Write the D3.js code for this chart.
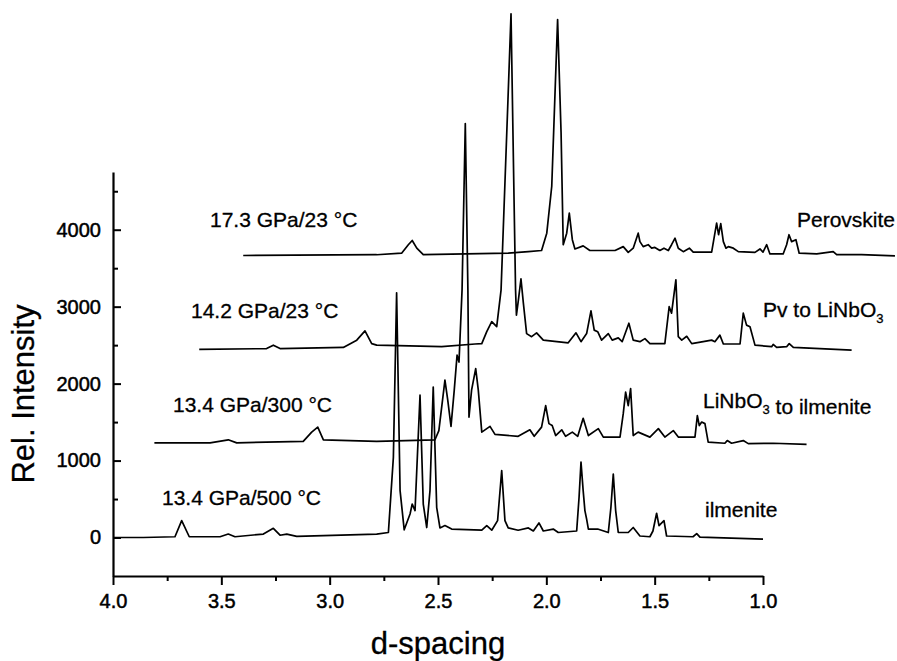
<!DOCTYPE html>
<html>
<head>
<meta charset="utf-8">
<script src="https://cdn.jsdelivr.net/npm/d3@7"></script>
<style>
  body { margin: 0; background: #fff; }
  svg text { font-family: "Liberation Sans", Arial, sans-serif; fill: #000; stroke: #000; stroke-width: 0.3px; }
</style>
</head>
<body>
<svg id="xrd" width="897" height="661"></svg>
<script>
// [d-spacing, rel. intensity] as plotted (stacked traces are offset in d and intensity)
var ilmenite = [[4.000,0],[3.860,0],[3.714,10],[3.683,220],[3.648,10],[3.506,10],[3.468,45],[3.437,10],[3.306,45],[3.260,120],[3.229,30],[3.198,45],[3.152,15],[2.783,45],[2.729,65],[2.706,1040],[2.691,3180],[2.675,610],[2.656,100],[2.629,305],[2.619,435],[2.606,350],[2.583,1850],[2.568,435],[2.552,130],[2.537,610],[2.522,1955],[2.506,390],[2.491,125],[2.468,155],[2.437,110],[2.298,95],[2.275,155],[2.252,95],[2.225,220],[2.206,870],[2.191,220],[2.176,125],[2.130,95],[2.083,125],[2.060,85],[2.034,190],[2.014,85],[1.968,110],[1.945,65],[1.860,85],[1.849,520],[1.840,980],[1.830,610],[1.822,350],[1.814,240],[1.806,110],[1.763,110],[1.714,65],[1.702,390],[1.691,825],[1.680,350],[1.668,65],[1.622,65],[1.599,130],[1.568,20],[1.522,10],[1.508,85],[1.491,315],[1.480,155],[1.457,220],[1.445,20],[1.323,10],[1.306,50],[1.291,5],[1.000,-20]]

var linbo3ToIlm = [[3.809,1230],[3.552,1230],[3.468,1270],[3.429,1230],[3.122,1250],[3.083,1370],[3.055,1435],[3.029,1270],[2.783,1250],[2.514,1270],[2.496,1390],[2.468,2045],[2.455,1785],[2.440,1445],[2.425,1915],[2.412,2370],[2.403,2280],[2.389,3215],[2.374,5380],[2.362,3215],[2.357,1565],[2.345,1915],[2.326,2195],[2.314,1915],[2.298,1370],[2.260,1445],[2.237,1340],[2.130,1315],[2.076,1400],[2.056,1315],[2.022,1435],[2.003,1715],[1.988,1480],[1.973,1455],[1.957,1325],[1.929,1400],[1.911,1315],[1.880,1370],[1.855,1315],[1.830,1550],[1.806,1325],[1.760,1415],[1.737,1305],[1.660,1305],[1.645,1610],[1.634,1890],[1.622,1715],[1.611,1935],[1.599,1325],[1.576,1370],[1.522,1305],[1.483,1415],[1.453,1305],[1.414,1390],[1.391,1305],[1.314,1305],[1.303,1585],[1.294,1455],[1.283,1500],[1.268,1480],[1.253,1240],[1.176,1225],[1.165,1260],[1.145,1225],[1.091,1260],[1.068,1220],[0.953,1225],[0.799,1210]]

var pvToLinbo3 = [[3.602,2445],[3.291,2455],[3.260,2500],[3.229,2455],[2.937,2470],[2.875,2565],[2.837,2685],[2.806,2520],[2.783,2500],[2.483,2480],[2.329,2515],[2.298,2520],[2.275,2675],[2.252,2805],[2.229,2740],[2.209,3215],[2.177,5695],[2.163,6805],[2.149,4390],[2.142,3215],[2.138,2890],[2.129,3085],[2.117,3360],[2.106,3045],[2.091,2650],[2.068,2610],[2.045,2660],[2.014,2565],[1.899,2530],[1.863,2660],[1.840,2545],[1.814,2650],[1.794,2945],[1.779,2695],[1.763,2675],[1.745,2565],[1.714,2650],[1.696,2565],[1.668,2595],[1.650,2545],[1.619,2785],[1.599,2565],[1.568,2545],[1.545,2585],[1.522,2520],[1.453,2520],[1.433,3000],[1.422,2915],[1.402,3350],[1.391,2610],[1.375,2565],[1.352,2615],[1.329,2520],[1.276,2545],[1.237,2565],[1.222,2545],[1.199,2630],[1.183,2515],[1.106,2515],[1.091,2915],[1.076,2760],[1.060,2740],[1.037,2500],[0.960,2480],[0.953,2510],[0.937,2470],[0.891,2480],[0.879,2520],[0.860,2470],[0.591,2435]]

var perovskite = [[3.399,3665],[2.783,3675],[2.668,3695],[2.637,3805],[2.619,3860],[2.598,3760],[2.568,3675],[2.176,3695],[2.083,3715],[2.022,3730],[1.998,3955],[1.975,4565],[1.948,6730],[1.932,5265],[1.922,3805],[1.906,3955],[1.894,4215],[1.880,3870],[1.868,3750],[1.830,3790],[1.799,3730],[1.683,3730],[1.645,3780],[1.622,3705],[1.599,3760],[1.576,3955],[1.568,3845],[1.553,3780],[1.530,3805],[1.514,3760],[1.499,3770],[1.476,3730],[1.457,3760],[1.437,3730],[1.422,3805],[1.406,3890],[1.391,3760],[1.368,3715],[1.340,3760],[1.322,3710],[1.237,3710],[1.222,3955],[1.214,4085],[1.205,3935],[1.195,4080],[1.183,3845],[1.171,3760],[1.160,3780],[1.137,3760],[1.114,3715],[1.037,3705],[1.014,3750],[1.000,3710],[0.983,3805],[0.968,3685],[0.907,3685],[0.891,3805],[0.880,3935],[0.868,3845],[0.848,3870],[0.833,3695],[0.752,3685],[0.676,3715],[0.660,3675],[0.545,3675],[0.391,3660]]

var conditions = ["13.4 GPa/500 °C", "13.4 GPa/300 °C", "14.2 GPa/23 °C", "17.3 GPa/23 °C"]
var phases = ["ilmenite", "LiNbO3 to ilmenite", "Pv to LiNbO3", "Perovskite"]

var xTicks = [4.0, 3.5, 3.0, 2.5, 2.0, 1.5, 1.0]
var xMinor = [3.75, 3.25, 2.75, 2.25, 1.75, 1.25]
var yTicks = [0, 1000, 2000, 3000, 4000]
var yMinor = [500, 1500, 2500, 3500, 4500]

var svg = d3.select('#xrd')

var x = d3.scaleLinear().domain([4, 1]).range([113, 763])
var y = d3.scaleLinear().domain([-500, 4750]).range([576, 172])

var lineGenerator = d3.line()
  .x(function(d) { return x(d[0]) })
  .y(function(d) { return y(d[1]) })

// traces
var traces = [ilmenite, linbo3ToIlm, pvToLinbo3, perovskite]
svg.append('g')
  .selectAll('path')
  .data(traces).enter()
  .append('path')
  .attr('d', lineGenerator)
  .attr('fill', 'none')
  .attr('stroke', '#000')
  .attr('stroke-width', 1.7)
  .attr('stroke-linejoin', 'round')

// x axis (ticks point down)
var xAxis = svg.append('g')
  .attr('transform', 'translate(0,576)')
  .call(d3.axisBottom(x).tickValues(xTicks).tickFormat(d3.format('.1f'))
    .tickSize(9).tickSizeOuter(0).tickPadding(9))
xAxis.append('g')
  .call(d3.axisBottom(x).tickValues(xMinor).tickFormat('').tickSize(5).tickSizeOuter(0))
  .select('.domain').remove()

// y axis (ticks point right, into the plot)
var yAxis = svg.append('g')
  .attr('transform', 'translate(113,0)')
  .call(d3.axisLeft(y).tickValues(yTicks).tickFormat(d3.format('d'))
    .tickSize(-8).tickSizeOuter(0).tickPadding(12))
yAxis.append('g')
  .call(d3.axisLeft(y).tickValues(yMinor).tickFormat('').tickSize(-5).tickSizeOuter(0))
  .select('.domain').remove()

svg.selectAll('.domain').attr('stroke-width', 2.2)
svg.selectAll('.tick line').attr('stroke-width', 2)
svg.selectAll('.tick text')
  .attr('font-size', 20)
  .attr('font-family', '"Liberation Sans", Arial, sans-serif')
  .style('stroke-width', '0.5px')

// axis titles
svg.append('text')
  .text('Rel. Intensity')
  .attr('font-size', 31)
  .attr('text-anchor', 'middle')
  .attr('transform', 'translate(34,394) rotate(-90)')

svg.append('text')
  .text('d-spacing')
  .attr('font-size', 31)
  .attr('text-anchor', 'middle')
  .attr('x', 438)
  .attr('y', 654)

// condition labels, left of each trace
var condPos = [[162, 505], [173, 412], [191, 318], [210, 227]]
svg.append('g')
  .selectAll('text')
  .data(conditions).enter()
  .append('text')
  .text(function(d) { return d })
  .attr('font-size', 21)
  .attr('x', function(d, i) { return condPos[i][0] })
  .attr('y', function(d, i) { return condPos[i][1] })

// phase labels, right of each trace (subscript 3 in LiNbO3)
var phasePos = [[705, 517], [703, 408], [763, 317], [797, 227]]
phases.forEach(function(label, i) {
  var t = svg.append('text')
    .attr('font-size', 21)
    .attr('x', phasePos[i][0])
    .attr('y', phasePos[i][1])
  var parts = label.split('O3')
  parts.forEach(function(p, j) {
    if (j > 0) {
      t.append('tspan').text('3').attr('font-size', 13).attr('dy', 6)
      t.append('tspan').text('').attr('dy', -6)
    }
    t.append('tspan').text(j < parts.length - 1 ? p + 'O' : p)
  })
})
</script>
</body>
</html>
